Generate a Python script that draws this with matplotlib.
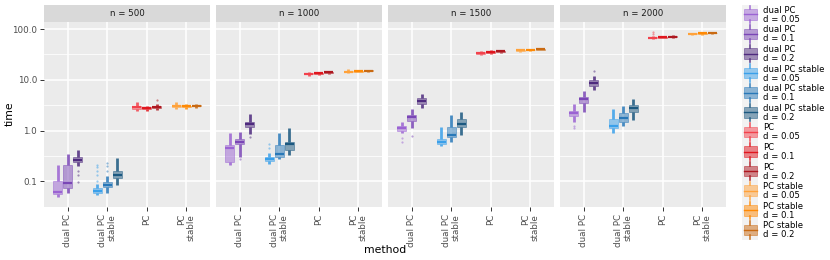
import matplotlib
matplotlib.use("Agg")
import matplotlib.pyplot as plt
from matplotlib.patches import Rectangle
from matplotlib.colors import to_rgba

# ---------------- data ----------------
n_values = [500, 1000, 1500, 2000]
methods = ["dual PC", "dual PC\nstable", "PC", "PC\nstable"]
method_names = ["dual PC", "dual PC stable", "PC", "PC stable"]
d_values = ["0.05", "0.1", "0.2"]

# five-number summaries per series (method, d) across n = 500, 1000, 1500, 2000
whisk_lo = {
    ("dual PC", "0.05"): [0.048, 0.207, 0.90, 1.5],
    ("dual PC", "0.1"): [0.058, 0.30, 1.10, 2.3],
    ("dual PC", "0.2"): [0.20, 0.85, 2.8, 6.2],
    ("dual PC stable", "0.05"): [0.053, 0.22, 0.50, 0.90],
    ("dual PC stable", "0.1"): [0.058, 0.27, 0.60, 1.22],
    ("dual PC stable", "0.2"): [0.085, 0.33, 0.80, 1.6],
    ("PC", "0.05"): [2.4, 12.0, 31.0, 64.0],
    ("PC", "0.1"): [2.45, 12.5, 33.0, 66.0],
    ("PC", "0.2"): [2.5, 13.3, 34.5, 68.0],
    ("PC stable", "0.05"): [2.6, 13.5, 36.0, 77.0],
    ("PC stable", "0.1"): [2.7, 14.0, 37.0, 78.0],
    ("PC stable", "0.2"): [2.8, 14.3, 38.5, 80.0],
}
q1 = {
    ("dual PC", "0.05"): [0.057, 0.237, 1.00, 1.9],
    ("dual PC", "0.1"): [0.073, 0.53, 1.55, 3.5],
    ("dual PC", "0.2"): [0.235, 1.15, 3.4, 7.5],
    ("dual PC stable", "0.05"): [0.058, 0.245, 0.55, 1.11],
    ("dual PC stable", "0.1"): [0.076, 0.30, 0.75, 1.45],
    ("dual PC stable", "0.2"): [0.115, 0.41, 1.16, 2.3],
    ("PC", "0.05"): [2.7, 12.8, 33.0, 67.0],
    ("PC", "0.1"): [2.7, 13.2, 34.5, 68.0],
    ("PC", "0.2"): [2.8, 13.8, 35.7, 70.0],
    ("PC stable", "0.05"): [2.9, 14.2, 37.3, 80.0],
    ("PC stable", "0.1"): [2.9, 14.5, 38.2, 81.0],
    ("PC stable", "0.2"): [3.0, 14.8, 39.5, 82.5],
}
median = {
    ("dual PC", "0.05"): [0.062, 0.45, 1.11, 2.2],
    ("dual PC", "0.1"): [0.091, 0.59, 1.83, 4.1],
    ("dual PC", "0.2"): [0.26, 1.33, 3.78, 8.6],
    ("dual PC stable", "0.05"): [0.063, 0.27, 0.60, 1.22],
    ("dual PC stable", "0.1"): [0.083, 0.34, 0.82, 1.75],
    ("dual PC stable", "0.2"): [0.13, 0.53, 1.35, 2.75],
    ("PC", "0.05"): [2.85, 13.2, 34.0, 68.0],
    ("PC", "0.1"): [2.8, 13.5, 35.5, 69.5],
    ("PC", "0.2"): [2.9, 14.0, 36.5, 71.0],
    ("PC stable", "0.05"): [3.0, 14.5, 38.0, 81.0],
    ("PC stable", "0.1"): [3.0, 14.8, 38.8, 82.0],
    ("PC stable", "0.2"): [3.1, 15.0, 40.0, 84.0],
}
q3 = {
    ("dual PC", "0.05"): [0.103, 0.51, 1.22, 2.4],
    ("dual PC", "0.1"): [0.207, 0.68, 2.05, 4.6],
    ("dual PC", "0.2"): [0.30, 1.50, 4.3, 9.8],
    ("dual PC stable", "0.05"): [0.072, 0.30, 0.68, 1.67],
    ("dual PC stable", "0.1"): [0.096, 0.51, 1.15, 2.2],
    ("dual PC stable", "0.2"): [0.158, 0.59, 1.65, 3.15],
    ("PC", "0.05"): [3.05, 13.6, 35.5, 70.0],
    ("PC", "0.1"): [2.9, 13.8, 36.5, 71.0],
    ("PC", "0.2"): [3.0, 14.3, 37.3, 72.5],
    ("PC stable", "0.05"): [3.15, 14.9, 38.8, 82.5],
    ("PC stable", "0.1"): [3.1, 15.1, 39.5, 83.5],
    ("PC stable", "0.2"): [3.2, 15.3, 40.8, 85.5],
}
whisk_hi = {
    ("dual PC", "0.05"): [0.21, 0.89, 1.5, 3.3],
    ("dual PC", "0.1"): [0.34, 0.93, 2.6, 6.0],
    ("dual PC", "0.2"): [0.42, 2.1, 5.2, 11.8],
    ("dual PC stable", "0.05"): [0.09, 0.36, 1.16, 2.6],
    ("dual PC stable", "0.1"): [0.125, 0.89, 2.0, 3.0],
    ("dual PC stable", "0.2"): [0.29, 1.1, 2.3, 4.1],
    ("PC", "0.05"): [3.6, 14.5, 37.0, 74.0],
    ("PC", "0.1"): [3.1, 14.3, 38.0, 74.0],
    ("PC", "0.2"): [3.3, 14.8, 38.5, 75.0],
    ("PC stable", "0.05"): [3.7, 16.0, 40.0, 85.0],
    ("PC stable", "0.1"): [3.3, 15.6, 40.5, 86.0],
    ("PC stable", "0.2"): [3.4, 15.8, 42.0, 88.0],
}
outliers = {
    ("dual PC", "0.05"): [[], [], [0.6, 0.7], [1.1, 1.25]],
    ("dual PC", "0.1"): [[], [0.28], [0.77], []],
    ("dual PC", "0.2"): [[0.095, 0.13, 0.16], [0.74], [], [14.8]],
    ("dual PC stable", "0.05"): [[0.1, 0.13, 0.16, 0.19, 0.21], [0.45, 0.53], [], []],
    ("dual PC stable", "0.1"): [[0.16, 0.2, 0.23], [], [], []],
    ("dual PC stable", "0.2"): [[], [], [], []],
    ("PC", "0.05"): [[], [], [], [80.0, 88.0]],
    ("PC", "0.1"): [[], [], [], []],
    ("PC", "0.2"): [[4.0], [], [], []],
    ("PC stable", "0.05"): [[], [], [], []],
    ("PC stable", "0.1"): [[], [], [], []],
    ("PC stable", "0.2"): [[], [], [], []],
}
colors = {
    ("dual PC", "0.05"): "#9B63D3",
    ("dual PC", "0.1"): "#7A46B6",
    ("dual PC", "0.2"): "#4E2A7E",
    ("dual PC stable", "0.05"): "#3AA0EA",
    ("dual PC stable", "0.1"): "#2878B8",
    ("dual PC stable", "0.2"): "#1B5880",
    ("PC", "0.05"): "#F2424C",
    ("PC", "0.1"): "#E0161E",
    ("PC", "0.2"): "#AE1820",
    ("PC stable", "0.05"): "#FFA23A",
    ("PC stable", "0.1"): "#FF8A05",
    ("PC stable", "0.2"): "#C96A12",
}
y_ticks = [0.1, 1.0, 10.0, 100.0]
y_ticklabels = ["0.1", "1.0", "10.0", "100.0"]

# ---------------- layout ----------------
W, H = 830, 260
fig = plt.figure(figsize=(W / 100, H / 100), dpi=100)
fig.patch.set_facecolor("white")


def px(x0, y0, x1, y1):
    return [x0 / W, 1 - y1 / H, (x1 - x0) / W, (y1 - y0) / H]


panel_left = [44, 216, 388, 560]
panel_w = 166
strip_top, strip_bot, panel_bot = 5, 22, 207
dodge = [-0.25, 0.0, 0.25]

for j, n in enumerate(n_values):
    x0 = panel_left[j]
    ax = fig.add_axes(px(x0, strip_bot, x0 + panel_w, panel_bot))
    sax = fig.add_axes(px(x0, strip_top, x0 + panel_w, strip_bot))
    sax.set_facecolor("#D9D9D9")
    sax.set_xticks([]); sax.set_yticks([])
    for s in sax.spines.values():
        s.set_visible(False)
    sax.text(0.5, 0.48, f"n = {n}", ha="center", va="center",
             fontsize=6.2, color="#1A1A1A", transform=sax.transAxes)

    ax.set_facecolor("#EBEBEB")
    ax.set_yscale("log")
    ax.set_ylim(0.031, 138)
    ax.set_xlim(0.4, 4.6)
    for s in ax.spines.values():
        s.set_visible(False)
    for yv in y_ticks:
        ax.axhline(yv, color="white", lw=1.1, zorder=0)
    for yv in [10 ** -0.5, 10 ** 0.5, 10 ** 1.5]:
        ax.axhline(yv, color="white", lw=0.55, zorder=0)
    for xv in range(1, 5):
        ax.axvline(xv, color="white", lw=1.1, zorder=0)

    for mi, mname in enumerate(method_names):
        for di, d in enumerate(d_values):
            key = (mname, d)
            c = colors[key]
            pos = mi + 1 + dodge[di]
            st = dict(med=median[key][j], q1=q1[key][j], q3=q3[key][j],
                      whislo=whisk_lo[key][j], whishi=whisk_hi[key][j],
                      fliers=outliers[key][j])
            ax.bxp([st], positions=[pos], widths=0.23, patch_artist=True,
                   showcaps=False, manage_ticks=False,
                   boxprops=dict(facecolor=to_rgba(c, 0.5), edgecolor=to_rgba(c, 0.55), linewidth=0.6),
                   whiskerprops=dict(color=to_rgba(c, 0.85), linewidth=2.0, solid_capstyle="butt"),
                   medianprops=dict(color=c, linewidth=1.6),
                   flierprops=dict(marker="o", markersize=1.6, markerfacecolor=to_rgba(c, 0.5),
                                   markeredgecolor="none", linestyle="none"))

    ax.set_xticks(range(1, 5))
    ax.set_xticklabels(methods, rotation=90, fontsize=6.3, color="#4D4D4D",
                       ha="center", va="top", multialignment="right", linespacing=0.95)
    ax.set_yticks(y_ticks)
    ax.yaxis.set_minor_locator(matplotlib.ticker.NullLocator())
    ax.tick_params(axis="both", length=3, width=0.7, color="#333333", pad=2)
    if j == 0:
        ax.set_yticklabels(y_ticklabels, fontsize=6.3, color="#4D4D4D")
    else:
        ax.tick_params(axis="y", left=False, labelleft=False)

fig.text(385 / W, 1 - 250 / H, "method", ha="center", va="center", fontsize=7.8, color="black")
fig.text(10 / W, 1 - 114 / H, "time", ha="center", va="center", rotation=90, fontsize=7.8, color="black")

# ---------------- legend ----------------
lax = fig.add_axes([0, 0, 1, 1])
lax.set_xlim(0, W); lax.set_ylim(H, 0)
lax.axis("off")
entry_h = 19.6
ly0 = 4.5
k = 0
for mname in method_names:
    for d in d_values:
        key = (mname, d)
        c = colors[key]
        top = ly0 + k * entry_h
        lax.add_patch(Rectangle((742, top), 16, entry_h, facecolor="#F2F2F2", edgecolor="none"))
        lax.add_patch(Rectangle((743.5, top + 4.5), 13, entry_h - 9,
                                facecolor=to_rgba(c, 0.5), edgecolor=to_rgba(c, 0.55), lw=0.6))
        lax.plot([750, 750], [top + 1, top + 4.5], color=to_rgba(c, 0.85), lw=1.2)
        lax.plot([750, 750], [top + entry_h - 4.5, top + entry_h - 1], color=to_rgba(c, 0.85), lw=1.2)
        lax.plot([743.5, 756.5], [top + entry_h / 2, top + entry_h / 2], color=c, lw=1.0)
        lax.text(763, top + entry_h / 2 + 0.5, f"{mname}\nd = {d}", ha="left", va="center",
                 fontsize=6.1, color="black", linespacing=1.0)
        k += 1

fig.savefig("out.png", dpi=100, facecolor="white")
